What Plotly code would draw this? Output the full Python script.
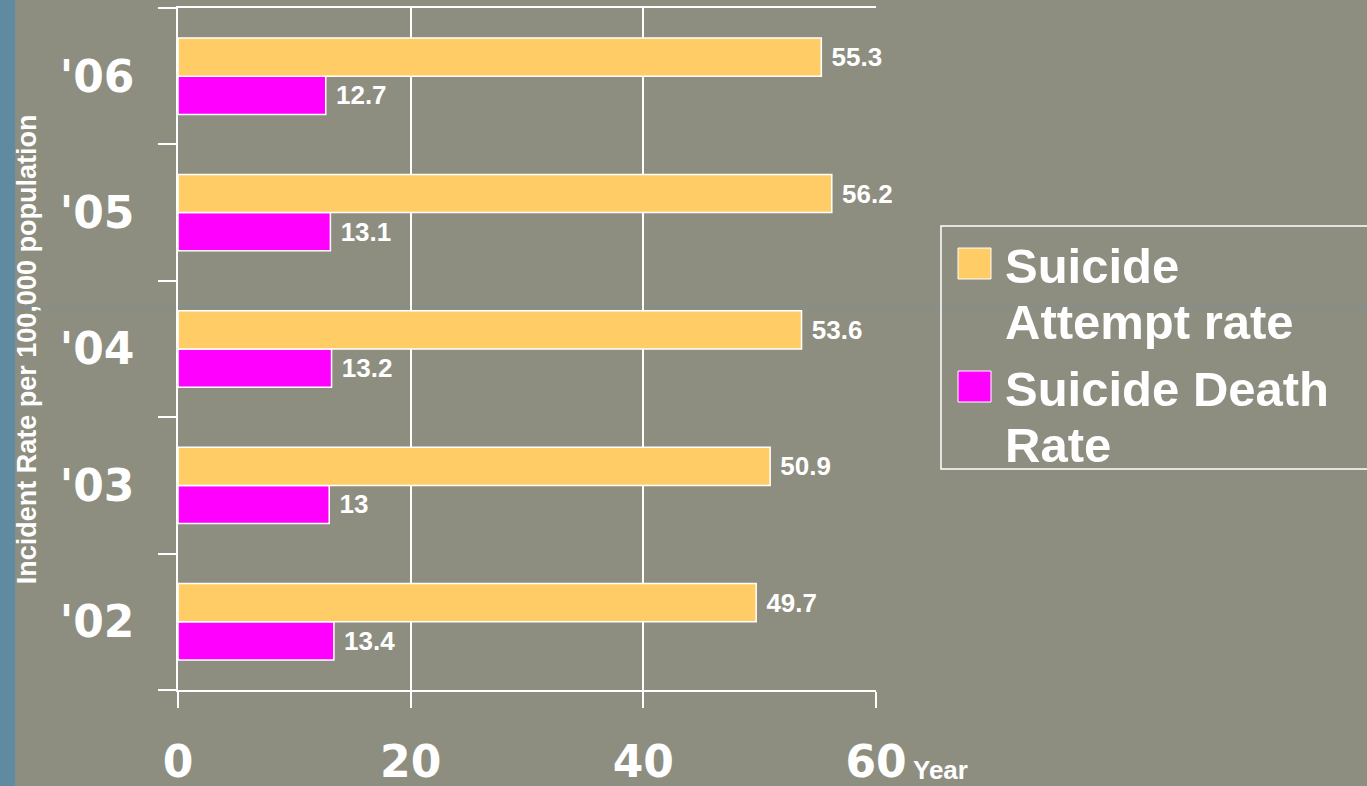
import plotly.graph_objects as go

years = ["'02", "'03", "'04", "'05", "'06"]
attempt_rate = [49.7, 50.9, 53.6, 56.2, 55.3]
death_rate = [13.4, 13.0, 13.2, 13.1, 12.7]
x_ticks = [0, 20, 40, 60]

BG = "#8e8e80"
ORANGE = "#ffcc66"
MAGENTA = "#ff00ff"
WHITE = "#ffffff"

fig = go.Figure()

# death first so that it sits below the attempt bar in each group
fig.add_trace(go.Bar(
    y=years, x=death_rate, orientation="h", name="Suicide Death Rate",
    marker=dict(color=MAGENTA, line=dict(color=WHITE, width=1.5)),
    text=[f"{v:g}" for v in death_rate], textposition="outside",
    texttemplate=" %{text}", constraintext="none", cliponaxis=False,
    textfont=dict(family="Liberation Sans", size=26, color=WHITE, weight="bold"),
))
fig.add_trace(go.Bar(
    y=years, x=attempt_rate, orientation="h", name="Suicide Attempt rate",
    marker=dict(color=ORANGE, line=dict(color=WHITE, width=1.5)),
    text=[f"{v:g}" for v in attempt_rate], textposition="outside",
    texttemplate=" %{text}", constraintext="none", cliponaxis=False,
    textfont=dict(family="Liberation Sans", size=26, color=WHITE, weight="bold"),
))

fig.update_layout(
    width=1367, height=786,
    margin=dict(l=178, r=491, t=8, b=96),
    paper_bgcolor=BG, plot_bgcolor=BG,
    barmode="group", bargap=0.44, bargroupgap=0,
    showlegend=False,
    xaxis=dict(
        range=[0, 60], tickvals=x_ticks, showgrid=True, gridcolor=WHITE, gridwidth=1.5,
        zeroline=False, showline=True, mirror=True, linecolor=WHITE, linewidth=1.5,
        ticks="outside", ticklen=16, tickcolor=WHITE, tickwidth=1.5,
        ticklabelstandoff=16, automargin=False,
        tickfont=dict(family="DejaVu Sans", size=44, color=WHITE, weight="bold"),
    ),
    yaxis=dict(
        categoryorder="array", categoryarray=years, showgrid=False, zeroline=False,
        showline=True, linecolor=WHITE, linewidth=1.5,
        ticks="outside", ticklen=18, tickcolor=WHITE, tickwidth=1.5, tickson="boundaries",
        ticklabelstandoff=33, automargin=False,
        tickfont=dict(family="DejaVu Sans", size=44, color=WHITE, weight="bold"),
    ),
)

# left blue strip of the slide and faint guide line
fig.add_shape(type="rect", xref="paper", yref="paper", x0=-0.26, x1=-0.2335,
              y0=-0.15, y1=1.02, fillcolor="#5f8aa0", line_width=0, layer="below")
fig.add_shape(type="line", xref="paper", yref="paper", x0=-0.2335, x1=1.71,
              y0=0.5616, y1=0.5616, line=dict(color="#7391a0", width=1), layer="below")

# axis titles
fig.add_annotation(text="Incident Rate per 100,000 population", textangle=-90,
                   xref="paper", yref="paper", x=-0.216, y=0.5,
                   xanchor="center", yanchor="middle", showarrow=False,
                   font=dict(family="Liberation Sans", size=27, color=WHITE, weight="bold"))
fig.add_annotation(text="Year", xref="paper", yref="paper", x=1.05, y=-0.117,
                   xanchor="left", yanchor="middle", showarrow=False,
                   font=dict(family="Liberation Sans", size=26, color=WHITE, weight="bold"))

# legend box, drawn by hand so the swatches match the large text
def px_x(p):
    return (p - 178) / 698

def px_y(p):
    return (690 - p) / 682

fig.add_shape(type="rect", xref="paper", yref="paper", x0=px_x(941), x1=px_x(1372),
              y0=px_y(469), y1=px_y(226), line=dict(color=WHITE, width=1.5))
legend_items = [(ORANGE, ["Suicide", "Attempt rate"], 248),
                (MAGENTA, ["Suicide Death", "Rate"], 371)]
for color, lines, top in legend_items:
    fig.add_shape(type="rect", xref="paper", yref="paper", x0=px_x(958), x1=px_x(991),
                  y0=px_y(top + 31), y1=px_y(top), fillcolor=color,
                  line=dict(color=WHITE, width=1))
    for i, line in enumerate(lines):
        fig.add_annotation(text=line, xref="paper", yref="paper",
                           x=px_x(1003), y=px_y(top + 18 + i * 56),
                           xanchor="left", yanchor="middle", showarrow=False,
                           font=dict(family="Liberation Sans", size=49, color=WHITE, weight="bold"))

fig.write_html("out.html", config={"displayModeBar": False},
               post_script="document.body.style.margin = '0';")
